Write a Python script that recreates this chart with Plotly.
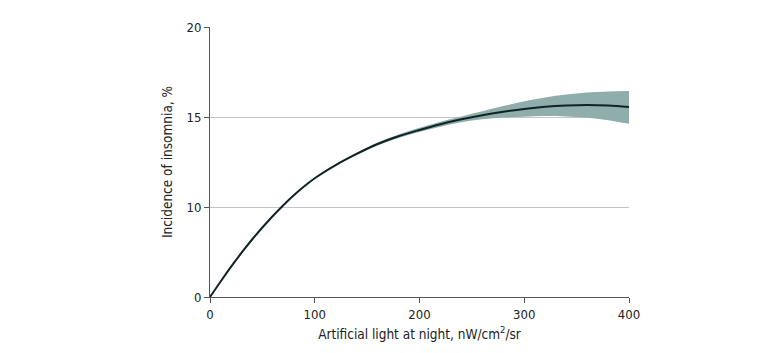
import plotly.graph_objects as go

# Artificial light at night (nW/cm2/sr)
light = [0, 10, 20, 30, 40, 50, 60, 70, 80, 90, 100, 120, 140, 160, 180, 200,
         220, 240, 260, 280, 300, 320, 340, 360, 380, 400]
# Incidence of insomnia, in the chart's axis units (bottom of the axis, labelled "0", sits at 5)
incidence = [5.0, 5.85, 6.67, 7.45, 8.18, 8.86, 9.5, 10.1, 10.65, 11.15, 11.6, 12.33,
             12.95, 13.5, 13.93, 14.28, 14.6, 14.87, 15.1, 15.29, 15.45, 15.57, 15.64,
             15.67, 15.64, 15.56]
ci_low = [5.0, 5.85, 6.67, 7.45, 8.18, 8.86, 9.5, 10.1, 10.65, 11.14, 11.58, 12.29,
          12.89, 13.42, 13.83, 14.16, 14.46, 14.71, 14.88, 14.97, 15.02, 15.05, 15.03,
          14.96, 14.82, 14.62]
ci_high = [5.0, 5.85, 6.67, 7.45, 8.18, 8.86, 9.5, 10.1, 10.65, 11.16, 11.62, 12.37,
           13.01, 13.58, 14.03, 14.40, 14.74, 15.03, 15.32, 15.61, 15.88, 16.09, 16.25,
           16.36, 16.42, 16.44]

x_ticks = [0, 100, 200, 300, 400]
y_tickvals = [5, 10, 15, 20]
y_ticktext = ["0", "10", "15", "20"]

band_color = "#8fadab"
line_color = "#0f2224"
font_family = "DejaVu Sans Condensed, Liberation Sans Narrow, Arial Narrow, sans-serif"

fig = go.Figure()
fig.add_trace(go.Scatter(x=light, y=ci_low, mode="lines",
                         line=dict(width=0, color=band_color, shape="spline"),
                         showlegend=False, hoverinfo="skip"))
fig.add_trace(go.Scatter(x=light, y=ci_high, mode="lines",
                         line=dict(width=0, color=band_color, shape="spline"),
                         fill="tonexty", fillcolor=band_color, showlegend=False, hoverinfo="skip"))
fig.add_trace(go.Scatter(x=light, y=incidence, mode="lines",
                         line=dict(width=2, color=line_color, shape="spline"),
                         showlegend=False))

fig.update_layout(
    width=780, height=353,
    margin=dict(l=202, r=159, t=14, b=64),
    paper_bgcolor="white", plot_bgcolor="white",
    font=dict(family=font_family, size=13, color="#222"),
    xaxis=dict(range=[0, 400], tickvals=x_ticks, showgrid=False, zeroline=False,
               showline=True, linecolor="#555", linewidth=1, ticks="outside", ticklen=5,
               tickcolor="#555", tickfont=dict(size=13),
               title=dict(text="Artificial light at night, nW/cm<sup>2</sup>/sr",
                          font=dict(size=13.5), standoff=8)),
    yaxis=dict(range=[5, 20], tickvals=y_tickvals, ticktext=y_ticktext, showgrid=True,
               gridcolor="#c4c4c4", gridwidth=1, zeroline=False,
               showline=True, linecolor="#555", linewidth=1, ticks="outside", ticklen=5,
               tickcolor="#555", tickfont=dict(size=13),
               title=dict(text="Incidence of insomnia, %", font=dict(size=13.5), standoff=10)),
)

fig.write_html("out.html")
